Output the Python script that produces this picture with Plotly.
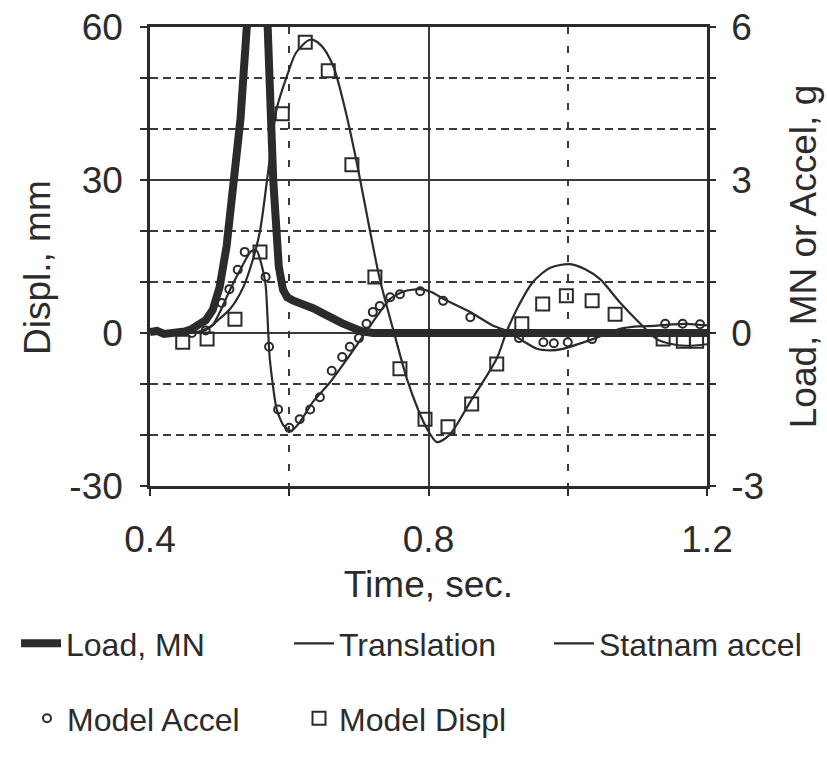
import plotly.graph_objects as go

# ---------------- data ----------------
load_t = [0.400, 0.410, 0.420, 0.430, 0.440, 0.450, 0.460, 0.470, 0.480, 0.490,
          0.500, 0.510, 0.520, 0.530, 0.539, 0.548, 0.556, 0.563, 0.569, 0.577,
          0.585, 0.591, 0.597, 0.605, 0.615, 0.625, 0.635, 0.645, 0.655, 0.665,
          0.675, 0.685, 0.695, 0.705, 0.720, 0.800, 0.900, 1.000, 1.100, 1.200]
load_mn = [0.02, 0.04, -0.02, 0.0, 0.0, 0.03, 0.08, 0.15, 0.25, 0.45,
           0.9, 1.7, 2.8, 4.2, 6.0, 7.8, 8.6, 7.6, 6.0, 3.0,
           1.3, 0.85, 0.70, 0.64, 0.60, 0.55, 0.48, 0.41, 0.33, 0.26,
           0.20, 0.14, 0.07, 0.03, 0.0, 0.0, 0.0, 0.0, 0.0, 0.0]

trans_t = [0.400, 0.440, 0.460, 0.470, 0.480, 0.490, 0.500, 0.515, 0.534, 0.548,
           0.558, 0.570, 0.582, 0.597, 0.610, 0.630, 0.645, 0.663, 0.680, 0.698,
           0.716, 0.730, 0.749, 0.769, 0.785, 0.798, 0.812, 0.830, 0.860, 0.898,
           0.912, 0.930, 0.950, 0.975, 1.003, 1.025, 1.046, 1.075, 1.100, 1.128,
           1.147, 1.170, 1.200]
trans_mm = [0.0, 0.0, 0.1, 0.3, 0.8, 1.6, 2.8, 4.7, 9.0, 14.5,
            20.0, 32.0, 44.0, 50.5, 55.0, 57.5, 56.5, 52.4, 44.0, 32.7,
            20.0, 10.6, 0.8, -9.0, -15.0, -18.8, -21.4, -20.0, -13.5, -5.0,
            0.2, 5.5, 10.0, 12.8, 13.5, 12.5, 10.6, 6.0, 2.4, -1.2,
            -2.1, -2.5, -2.2]

accel_t = [0.400, 0.450, 0.470, 0.480, 0.490, 0.500, 0.515, 0.530, 0.545, 0.553,
           0.560, 0.566, 0.572, 0.582, 0.592, 0.603, 0.615, 0.634, 0.659, 0.683,
           0.706, 0.730, 0.745, 0.765, 0.788, 0.805, 0.821, 0.860, 0.893, 0.913,
           0.935, 0.956, 0.975, 0.993, 1.036, 1.075, 1.100, 1.123, 1.150, 1.171,
           1.200]
accel_g = [0.0, 0.0, 0.02, 0.06, 0.15, 0.40, 0.85, 1.25, 1.60, 1.62,
           1.35, 0.95, -0.50, -1.50, -1.82, -1.92, -1.75, -1.35, -0.96, -0.51,
           -0.06, 0.41, 0.67, 0.82, 0.86, 0.80, 0.67, 0.41, 0.14, 0.04,
           -0.15, -0.31, -0.34, -0.31, -0.12, 0.08, 0.13, 0.14, 0.17, 0.18,
           0.15]

maccel_t = [0.460, 0.480, 0.503, 0.514, 0.526, 0.536, 0.566, 0.571, 0.584, 0.600,
            0.615, 0.630, 0.644, 0.661, 0.676, 0.687, 0.700, 0.711, 0.720, 0.730,
            0.745, 0.759, 0.788, 0.821, 0.860, 0.930, 0.965, 0.980, 1.000, 1.035,
            1.140, 1.165, 1.190]
maccel_g = [0.0, 0.05, 0.59, 0.86, 1.24, 1.59, 1.10, -0.27, -1.50, -1.86,
            -1.69, -1.50, -1.26, -0.74, -0.47, -0.27, -0.10, 0.18, 0.41, 0.53,
            0.70, 0.76, 0.82, 0.63, 0.31, -0.10, -0.18, -0.20, -0.18, -0.12,
            0.18, 0.18, 0.17]

mdispl_t = [0.447, 0.482, 0.522, 0.558, 0.590, 0.623, 0.656, 0.690, 0.723, 0.759,
            0.795, 0.828, 0.862, 0.898, 0.934, 0.964, 0.998, 1.035, 1.068, 1.137,
            1.166, 1.185]
mdispl_mm = [-1.8, -1.2, 2.7, 15.9, 43.0, 57.0, 51.4, 33.0, 11.0, -7.0,
             -16.9, -18.4, -13.9, -6.1, 1.8, 5.7, 7.3, 6.3, 3.7, -1.2,
             -1.6, -1.6]

x_ticks = [0.4, 0.8, 1.2]
x_tick_text = ["0.4", "0.8", "1.2"]
y_ticks = [-30, 0, 30, 60]
y_tick_text = ["-30", "0", "30", "60"]
y2_ticks = [-3, 0, 3, 6]
y2_tick_text = ["-3", "0", "3", "6"]

# ---------------- style ----------------
INK = "#2b2b2b"
GRID = "#3a3a3a"
FONT = "Arial, 'Liberation Sans', Helvetica, sans-serif"
W, H = 827, 761
PL, PR, PT, PB = 150, 707, 27, 486

fig = go.Figure()

fig.add_trace(go.Scatter(
    x=mdispl_t, y=mdispl_mm, mode="markers", name="Model Displ",
    marker=dict(symbol="square-open", size=13, color=INK, line=dict(width=2, color=INK)),
    yaxis="y", legend="legend2", legendrank=2, legendwidth=227))
fig.add_trace(go.Scatter(
    x=trans_t, y=trans_mm, mode="lines", name="Translation",
    line=dict(color=INK, width=2.2, shape="spline", smoothing=0.8),
    yaxis="y", legend="legend", legendrank=2, legendwidth=205))
fig.add_trace(go.Scatter(
    x=maccel_t, y=maccel_g, mode="markers", name="Model Accel",
    marker=dict(symbol="circle-open", size=8, color=INK, line=dict(width=2, color=INK)),
    yaxis="y2", legend="legend2", legendrank=1, legendwidth=227))
fig.add_trace(go.Scatter(
    x=accel_t, y=accel_g, mode="lines", name="Statnam accel",
    line=dict(color=INK, width=2.2, shape="spline", smoothing=0.6),
    yaxis="y2", legend="legend", legendrank=3))
fig.add_trace(go.Scatter(
    x=load_t, y=load_mn, mode="lines", name="Load, MN",
    line=dict(color=INK, width=8),
    yaxis="y2", legend="legend", legendrank=1, legendwidth=218))

tickfont = dict(family=FONT, size=37, color=INK)
titlefont = dict(family=FONT, size=37, color=INK)
legfont = dict(family=FONT, size=32, color=INK)

fig.update_layout(
    width=W, height=H,
    margin=dict(l=0, r=0, t=PT, b=H - PB, pad=0, autoexpand=False),
    paper_bgcolor="white", plot_bgcolor="white",
    font=dict(family=FONT, color=INK),
    xaxis=dict(
        domain=[PL / W, PR / W], range=[0.4, 1.2], automargin=False,
        tickvals=x_ticks, ticktext=x_tick_text,
        ticks="outside", ticklen=7, tickwidth=2, tickcolor=INK,
        tickfont=tickfont, ticklabelstandoff=12,
        showline=True, linewidth=2.5, linecolor=INK, mirror=True,
        showgrid=True, gridcolor=GRID, gridwidth=2, zeroline=False,
        minor=dict(dtick=0.2, tick0=0.4, showgrid=True, gridcolor=GRID, gridwidth=1.8,
                   griddash="7px,12px", ticks="outside", ticklen=7, tickwidth=2, tickcolor=INK),
        title=dict(text="Time, sec.", font=titlefont, standoff=12),
    ),
    yaxis=dict(
        range=[-30, 60], tickvals=y_ticks, ticktext=y_tick_text, automargin=False,
        ticks="outside", ticklen=7, tickwidth=2, tickcolor=INK,
        tickfont=tickfont, ticklabelstandoff=10,
        showline=True, linewidth=2.5, linecolor=INK,
        showgrid=True, gridcolor=GRID, gridwidth=2.2, zeroline=False,
        minor=dict(dtick=10, tick0=0, showgrid=True, gridcolor=GRID, gridwidth=1.6,
                   griddash="8px,5px", ticks="outside", ticklen=7, tickwidth=2, tickcolor=INK),
    ),
    yaxis2=dict(
        range=[-3, 6], tickvals=y2_ticks, ticktext=y2_tick_text,
        overlaying="y", side="right", anchor="x", automargin=False,
        ticks="outside", ticklen=6, tickwidth=2, tickcolor=INK,
        tickfont=tickfont, ticklabelstandoff=8,
        showline=True, linewidth=2.5, linecolor=INK,
        showgrid=False, zeroline=False,
        minor=dict(dtick=1, tick0=0, ticks="outside", ticklen=6, tickwidth=2, tickcolor=INK),
        title=dict(text="Load, MN or Accel, g", font=titlefont, standoff=28),
    ),
    annotations=[dict(
        text="Displ., mm", textangle=-90, showarrow=False,
        xref="paper", yref="paper", x=37 / W, y=(PB - 268) / (PB - PT),
        xanchor="center", yanchor="middle", font=titlefont,
    )],
    legend=dict(
        orientation="h", xref="paper", yref="container",
        x=16 / W, xanchor="left", y=1 - 616 / H, yanchor="top",
        font=legfont, itemwidth=40, bgcolor="rgba(0,0,0,0)", borderwidth=0,
        traceorder="normal",
    ),
    legend2=dict(
        orientation="h", xref="paper", yref="container",
        x=27 / W, xanchor="left", y=1 - 691 / H, yanchor="top",
        font=legfont, itemwidth=30, bgcolor="rgba(0,0,0,0)", borderwidth=0,
        traceorder="normal",
    ),
)

fig.write_html("out.html")
